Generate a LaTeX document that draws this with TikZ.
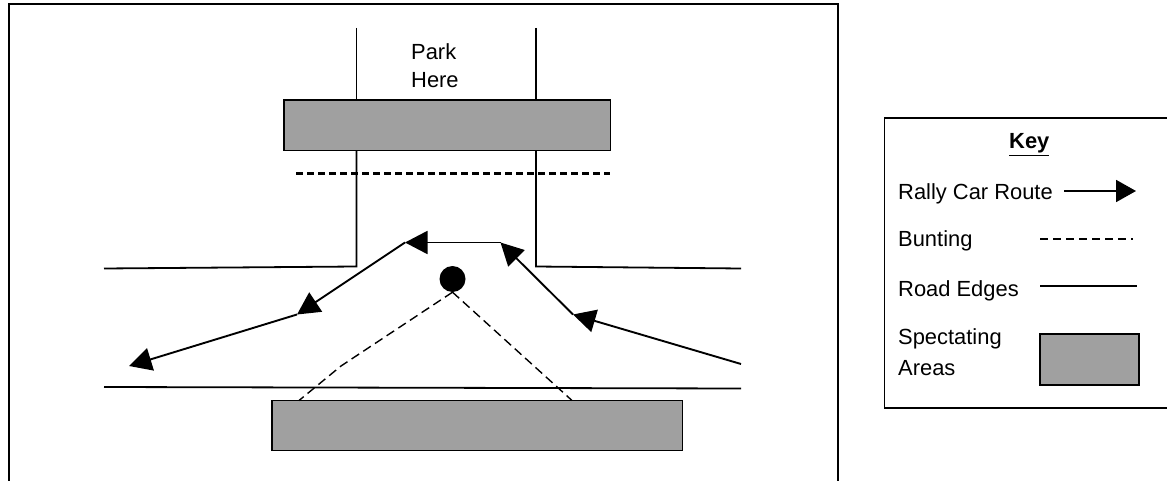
\documentclass[tikz,border=0pt]{standalone}
\usepackage{fontspec}
\setmainfont{Liberation Sans}
\usetikzlibrary{arrows.meta}
\definecolor{areagrey}{HTML}{A0A0A0}
\tikzset{
  roadedge/.style={line width=1.8pt,black},
  framerule/.style={line width=1.8pt,black},
  routeleg/.style={line width=1.9pt,black,-{Triangle[length=22.5pt,width=23pt]}},
  buntingheavy/.style={line width=2.6pt,dash pattern=on 7pt off 4pt},
  buntingthin/.style={line width=1.4pt,dash pattern=on 9pt off 5pt},
  specarea/.style={draw=black,line width=1.8pt,fill=areagrey,inner sep=0pt},
  lab/.style={anchor=base west,inner sep=0pt,font=\fontsize{21.9}{26}\selectfont}
}
\begin{document}
\begin{tikzpicture}[x=1pt,y=-1pt]
\useasboundingbox (0,0) rectangle (1167,481);
% frames
\draw[framerule] (9,481) -- (9,4) -- (838,4) -- (838,481);
\draw[framerule] (1170,118) -- (884.5,118) -- (884.5,408) -- (1170,408);
% road edges
\draw[roadedge] (356.5,28) -- (356.5,100);
\draw[roadedge] (536,28) -- (536,100);
\draw[roadedge] (104,268.5) -- (356.5,266.5) -- (356.5,149);
\draw[roadedge] (741,268.5) -- (536,266.5) -- (536,149);
\draw[roadedge] (104,387) -- (741,388.5);
% spectating areas
\draw[specarea] (284,100) rectangle (610.5,150.5);
\draw[specarea] (272,400.5) rectangle (682.5,450.5);
\coordinate (b1) at (296,173.5);
\coordinate (b2) at (610,173.5);
\draw[buntingheavy] (b1) -- (b2);
% marshal point
\node[circle,fill=black,inner sep=0pt,minimum size=26pt] (post) at (452.5,279) {};
\coordinate (dl1) at (341,366);
\coordinate (dl2) at (299,400.5);
\coordinate (dr) at (572,400.5);
\draw[buntingthin] (post.south) -- (dl1) -- (dl2);
\draw[buntingthin] (post.south) -- (dr);
% route
\coordinate (r0) at (741,364);
\coordinate (r1) at (573,314.5);
\coordinate (r2) at (500.5,242.5);
\coordinate (r3) at (405,242.5);
\coordinate (r4) at (297,314.5);
\coordinate (r5) at (129,366);
\draw[routeleg] (r0) -- (r1);
\draw[routeleg] (r1) -- (r2);
\draw[routeleg] (r2) -- (r3);
\draw[routeleg] (r3) -- (r4);
\draw[routeleg] (r4) -- (r5);
% labels
\node[lab] (park) at (411,59.5) {Park};
\node[lab] (here) at (411,87.5) {Here};
\node[lab,font=\fontsize{21.9}{26}\selectfont\bfseries] (key) at (1009,149) {\underline{Key}};
\node[lab] (rally) at (898,200) {Rally Car Route};
\node[lab] (bunting) at (898,247) {Bunting};
\node[lab] (edges) at (898,296) {Road Edges};
\node[lab] (spec) at (898,344) {Spectating};
\node[lab] (areas) at (898,375) {Areas};
% key samples
\coordinate (k1a) at (1064,191);
\coordinate (k1b) at (1136,191);
\draw[line width=1.9pt,-{Triangle[length=20pt,width=22pt]}] (k1a) -- (k1b);
\coordinate (k2a) at (1040,239);
\coordinate (k2b) at (1133,239);
\draw[line width=1.4pt,dash pattern=on 8pt off 5pt] (k2a) -- (k2b);
\coordinate (k3a) at (1040,286);
\coordinate (k3b) at (1137,286);
\draw[roadedge] (k3a) -- (k3b);
\draw[specarea] (1040,334) rectangle (1139,385);
\end{tikzpicture}
\end{document}
